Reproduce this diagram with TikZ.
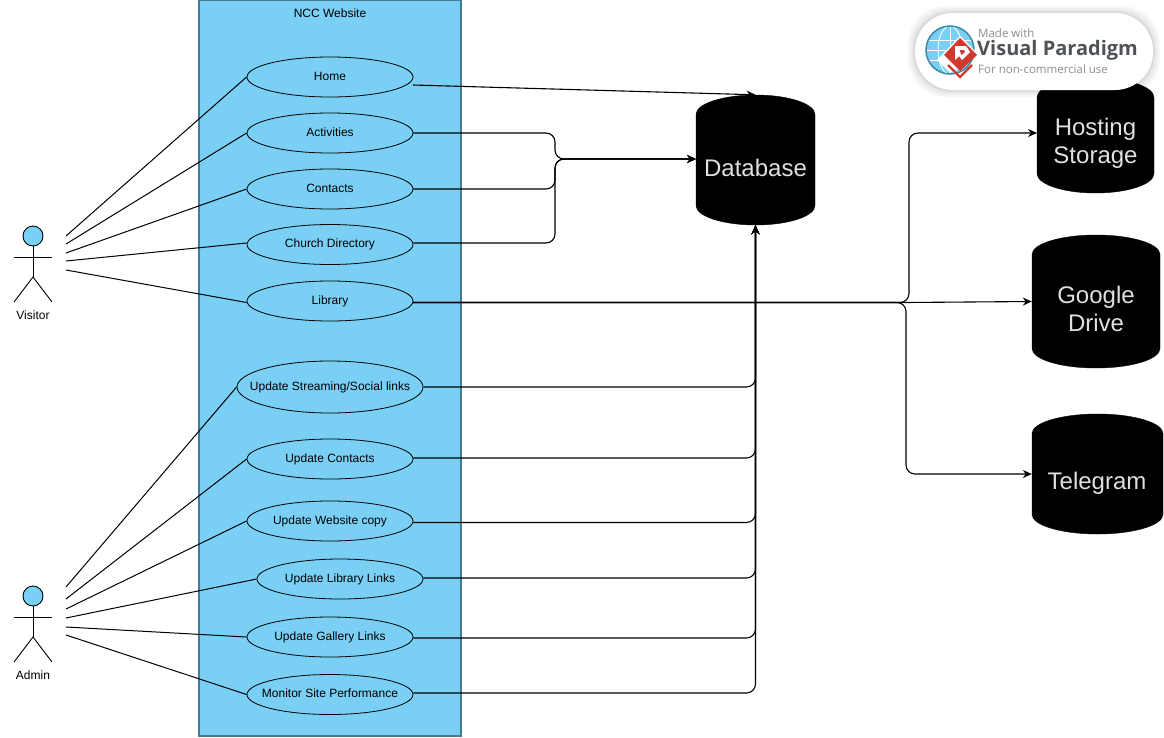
\documentclass[tikz,border=0pt]{standalone}
\usepackage{fontspec}
\setmainfont{Liberation Sans}
\newfontfamily\logofont{Open Sans}
\usetikzlibrary{shapes.geometric,arrows.meta}
\definecolor{panel}{HTML}{7ACFF5}
\definecolor{edgeblue}{HTML}{4A7A92}
\definecolor{logogrey}{HTML}{4F5357}
\definecolor{logolight}{HTML}{8A8D90}
\definecolor{logored}{HTML}{D2392E}
\definecolor{logoblue}{HTML}{3F8FA8}
\newcommand{\tx}[1]{\makebox[0pt][c]{#1}}
\newcommand{\ph}{\phantom{Database}}
\tikzset{
  usecase/.style={draw=black,fill=panel,ellipse,line width=0.8pt,inner sep=0pt,text height=9pt,text depth=3pt,font=\fontsize{12}{14}\selectfont},
  store/.style={cylinder,shape border rotate=90,anchor=shape center,draw=black,fill=black,inner sep=0pt,aspect=0.38,font=\fontsize{24}{28}\selectfont},
  storelabel/.style={text=white!88!black,inner sep=0pt,align=center,font=\fontsize{24}{28}\selectfont},
  link/.style={draw=black,line width=1pt},
  conn/.style={draw=black,line width=1.1pt,rounded corners=9pt,-{Stealth[length=9pt,width=8pt]}},
  stick/.style={draw=black,line width=0.9pt},
  actorlabel/.style={font=\fontsize{12}{14}\selectfont,inner sep=0pt},
  logotext/.style={text=logolight,inner sep=0pt,anchor=west,font=\logofont\fontsize{11.5}{13}\selectfont}
}
\begin{document}
\begin{tikzpicture}[x=1pt,y=-1pt]
\useasboundingbox (0,0) rectangle (1164,737);
\node[draw=edgeblue,fill=panel,line width=1.2pt,minimum width=262pt,minimum height=736pt,inner sep=0pt] (panel) at (330,368) {};
\node[actorlabel] (title) at (330,13) {NCC Website};

% use cases
\node[usecase,minimum width=166pt,minimum height=40pt] (home) at (330,77) {\tx{Home}};
\node[usecase,minimum width=166pt,minimum height=40pt] (activities) at (330,133) {\tx{Activities}};
\node[usecase,minimum width=166pt,minimum height=40pt] (contacts) at (330,189) {\tx{Contacts}};
\node[usecase,minimum width=166pt,minimum height=40pt] (church) at (330,244.5) {\tx{Church Directory}};
\node[usecase,minimum width=166pt,minimum height=40pt] (library) at (330,301) {\tx{Library}};
\node[usecase,minimum width=186pt,minimum height=52pt] (streaming) at (330,387) {\tx{Update Streaming/Social links}};
\node[usecase,minimum width=166pt,minimum height=40pt] (ucontacts) at (330,459) {\tx{Update Contacts}};
\node[usecase,minimum width=166pt,minimum height=40pt] (website) at (330,521) {\tx{Update Website copy}};
\node[usecase,minimum width=166pt,minimum height=40pt] (ulibrary) at (340,579) {\tx{Update Library Links}};
\node[usecase,minimum width=166pt,minimum height=40pt] (gallery) at (330,637) {\tx{Update Gallery Links}};
\node[usecase,minimum width=166pt,minimum height=40pt] (monitor) at (330,694.5) {\tx{Monitor Site Performance}};

% stores
\node[store,minimum width=119pt,minimum height=130pt] (db) at (755.5,160) {\ph};
\node[store,minimum width=117pt,minimum height=115pt] (hosting) at (1095.5,135.5) {\ph};
\node[store,minimum width=128pt,minimum height=133pt] (drive) at (1096,301.5) {\ph};
\node[store,minimum width=131pt,minimum height=120pt] (telegram) at (1097.5,474) {\ph};
\node[storelabel] (dbtext) at (755.5,167.5) {Database};
\node[storelabel] (hostingtext) at (1095.5,143) {Hosting\\Storage};
\node[storelabel] (drivetext) at (1096,309) {Google\\Drive};
\node[storelabel] (telegramtext) at (1097,483) {Telegram};

% actors
\node[draw=black,fill=panel,circle,line width=0.9pt,minimum size=20pt,inner sep=0pt] (vhead) at (33,236) {};
\coordinate (vhip) at (33,277);
\coordinate (varmL) at (14,257);
\coordinate (varmR) at (52,257);
\coordinate (vlegL) at (14,302);
\coordinate (vlegR) at (52,302);
\draw[stick] (vhead.south) -- (vhip);
\draw[stick] (varmL) -- (varmR);
\draw[stick] (vlegL) -- (vhip) -- (vlegR);
\node[actorlabel] (visitor) at (33,315) {Visitor};

\node[draw=black,fill=panel,circle,line width=0.9pt,minimum size=20pt,inner sep=0pt] (ahead) at (33,596) {};
\coordinate (ahip) at (33,637);
\coordinate (aarmL) at (14,617);
\coordinate (aarmR) at (52,617);
\coordinate (alegL) at (14,662);
\coordinate (alegR) at (52,662);
\draw[stick] (ahead.south) -- (ahip);
\draw[stick] (aarmL) -- (aarmR);
\draw[stick] (alegL) -- (ahip) -- (alegR);
\node[actorlabel] (admin) at (33,675) {Admin};

% actor links
\coordinate (v1) at (66,236);
\coordinate (v2) at (66,244);
\coordinate (v3) at (66,253);
\coordinate (v4) at (66,261);
\coordinate (v5) at (66,270);
\draw[link] (v1) -- (home.west);
\draw[link] (v2) -- (activities.west);
\draw[link] (v3) -- (contacts.west);
\draw[link] (v4) -- ([yshift=1.5pt]church.west);
\draw[link] (v5) -- ([yshift=-1.5pt]library.west);
\coordinate (a1) at (66,587);
\coordinate (a2) at (66,599);
\coordinate (a3) at (66,609);
\coordinate (a4) at (66,618);
\coordinate (a5) at (66,627);
\coordinate (a6) at (66,635);
\draw[link] (a1) -- (streaming.west);
\draw[link] (a2) -- (ucontacts.west);
\draw[link] (a3) -- (website.west);
\draw[link] (a4) -- (ulibrary.west);
\draw[link] (a5) -- (gallery.west);
\draw[link] (a6) -- (monitor.west);

% to database
\coordinate (homeout) at (413,85);
\draw[conn] (homeout) -- (db.north);
\coordinate (dbin) at (696,159);
\draw[conn] (activities.east) -- (555,133) -- (555,159) -- (dbin);
\draw[conn] (contacts.east) -- (555,189) -- (555,159) -- (dbin);
\draw[conn] ([yshift=1.5pt]church.east) -- (555,243) -- (555,159) -- (dbin);
\draw[conn] (streaming.east) -- (755.5,387) -- (db.south);
\draw[conn] ([yshift=1pt]ucontacts.east) -- (755.5,458) -- (db.south);
\draw[conn] ([yshift=-1.5pt]website.east) -- (755.5,522.5) -- (db.south);
\draw[conn] ([yshift=1pt]ulibrary.east) -- (755.5,578) -- (db.south);
\draw[conn] ([yshift=-1pt]gallery.east) -- (755.5,638) -- (db.south);
\draw[conn] ([yshift=1.5pt]monitor.east) -- (755.5,693) -- (db.south);

% library to stores
\coordinate (hostin) at (1037,133);
\coordinate (libout) at (413,302.5);
\draw[conn] (libout) -- (909,302.5) -- (909,133) -- (hostin);
\draw[conn] (libout) -- (906,302.5) -- (906,474) -- (telegram.west |- telegram.shape center);
\draw[conn] (libout) -- (906,302.5) -- (drive.west |- drive.shape center);

% logo
\foreach \op/\gr in {0.03/7,0.03/5,0.04/3,0.05/1.5}{
  \fill[black,opacity=\op,rounded corners=38pt] (915-\gr,13-\gr) rectangle (1153+\gr,90+\gr);
}
\fill[white,rounded corners=38pt] (915,13) rectangle (1153,90);
\node[draw=logoblue,fill=panel,circle,line width=1.6pt,minimum size=48pt,inner sep=0pt] (globe) at (950,50) {};
\begin{scope}
\clip (950,50) circle (23pt);
\draw[white,line width=0.9pt] (926,40) -- (974,40) (926,50) -- (974,50) (926,60) -- (974,60) (950,26) -- (950,74);
\draw[white,line width=0.9pt] (950,50) ellipse (12pt and 24pt);
\end{scope}
\fill[white] (950,73) -- (937,60) -- (960,36) -- (978,54) -- cycle;
\fill[logored] (960,38) -- (977,55) -- (960,71) -- (944,55) -- cycle;
\draw[logored,line width=2.2pt] (948,65) -- (960,77) -- (972,65);
\fill[white] (955,46) -- (966,46) -- (970,52) -- (962,60) -- (959,56) -- (955,60) -- cycle;
\fill[logored] (959.5,50) -- (964,50) -- (965,52) -- (961.5,55) -- cycle;
\node[logotext] (made) at (978,33) {Made with};
\node[logotext,text=logogrey,font=\logofont\bfseries\fontsize{20}{24}\selectfont] (vp) at (977,50.5) {Visual Paradigm};
\node[logotext] (nc) at (978,69) {For non-commercial use};
\end{tikzpicture}
\end{document}
